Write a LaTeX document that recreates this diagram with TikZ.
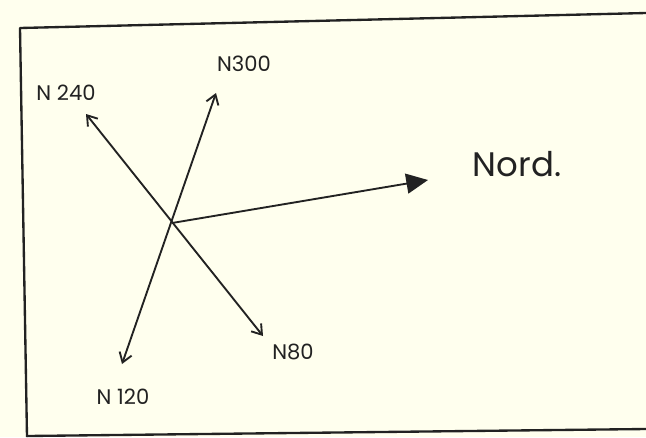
\documentclass[tikz,border=0pt]{standalone}
\usepackage{fontspec}
\setmainfont{Poppins}
\usepackage{xcolor}
\usetikzlibrary{arrows.meta}
\definecolor{paper}{HTML}{FFFFEE}
\definecolor{pencil}{HTML}{222222}

\begin{document}
\begin{tikzpicture}[x=0.03cm, y=-0.03cm, line join=round,
        cadre/.style={pencil, line width=2pt},
        label/.style={pencil, font=\fontsize{18}{18}\selectfont},
        direction/.style={pencil, line width=1.6pt, {Straight Barb[length=2.8mm, width=3.8mm]}-{Straight Barb[length=2.8mm, width=3.8mm]}}]
        % Fond et cadre
        \fill[paper] (0,0) rectangle (646,437);
        \useasboundingbox (0,0) rectangle (646,437);
        \draw[cadre] (646,13) -- (20,28) -- (27,437);
        \draw[cadre] (27,436) -- (646,429);

        % Centre et extremites des fleches
        \coordinate (o) at (172,223);
        \coordinate (t240) at (86,114);
        \coordinate (t80) at (263,336);
        \coordinate (t300) at (216,93);
        \coordinate (t120) at (122,364);
        \coordinate (tnord) at (428,180);

        % Etiquettes
        \node[label] (l240) at (66,93) {N 240};
        \node[label] (l300) at (244,64) {N300};
        \node[label] (l80) at (293,352) {N80};
        \node[label] (l120) at (123,397) {N 120};
        \node[pencil, font=\fontsize{29}{29}\selectfont] (lnord) at (517,164) {Nord.};

        % Directions
        \draw[direction] (t240) -- (t80);
        \draw[direction] (t120) -- (t300);
        \draw[pencil, line width=1.6pt, -{Triangle[length=6.5mm, width=6mm]}] (o) -- (tnord);
    \end{tikzpicture}
\end{document}
